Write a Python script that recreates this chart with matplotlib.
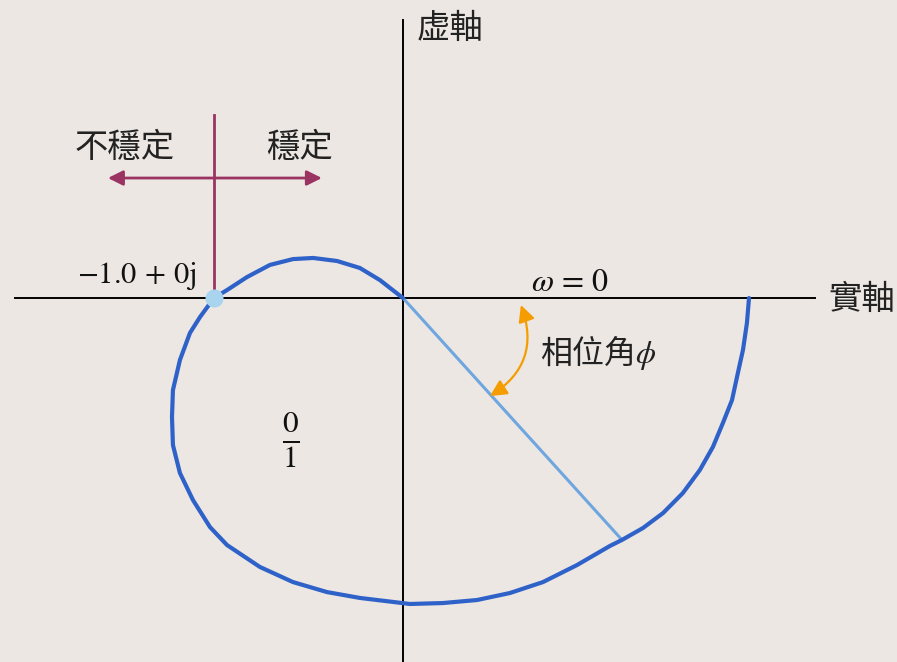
import matplotlib
matplotlib.use('Agg')
import matplotlib.pyplot as plt
import numpy as np

plt.rcParams['mathtext.fontset'] = 'stix'
plt.rcParams['font.family'] = ['Noto Sans CJK TC', 'DejaVu Sans']

# Nyquist curve, real / imaginary parts (from omega=0 at the right)
re = [1.831, 1.820, 1.799, 1.772, 1.741, 1.693, 1.640, 1.571, 1.481, 1.376,
      1.270, 1.159, 1.095, 0.921, 0.741, 0.566, 0.392, 0.212, 0.037, -0.228,
      -0.402, -0.582, -0.757, -0.931, -1.021, -1.111, -1.180, -1.217, -1.222,
      -1.217, -1.180, -1.127, -1.074, -1.0, -0.931, -0.825, -0.704, -0.582,
      -0.476, -0.349, -0.228, -0.122, 0.0]
im = [0.0, -0.132, -0.275, -0.397, -0.540, -0.661, -0.788, -0.910, -1.032, -1.138,
      -1.217, -1.280, -1.312, -1.413, -1.503, -1.561, -1.598, -1.614, -1.619, -1.587,
      -1.556, -1.503, -1.423, -1.307, -1.212, -1.069, -0.926, -0.778, -0.630,
      -0.487, -0.328, -0.185, -0.101, 0.0, 0.042, 0.111, 0.175, 0.206,
      0.212, 0.196, 0.159, 0.095, 0.0]

phase_pt = (1.159, -1.280)
crit_pt = (-1.0, 0.0)

BG = '#ece7e3'
fig = plt.figure(figsize=(8.97, 6.62), dpi=100, facecolor=BG)
ax = fig.add_axes([0, 0, 1, 1])
ax.set_facecolor(BG)
ax.set_xlim(-2.132, 2.614)
ax.set_ylim(-1.926, 1.577)
ax.axis('off')

# axes
ax.plot([-2.053, 2.180], [0, 0], color='black', lw=1.4, zorder=2)
ax.plot([0, 0], [-1.926, 1.471], color='black', lw=1.4, zorder=2)

# phase line
ax.plot([0, phase_pt[0]], [0, phase_pt[1]], color='#6fa6e0', lw=2.2, zorder=3)

# nyquist curve
ax.plot(re, im, color='#2f62c8', lw=3.0, solid_joinstyle='round',
        solid_capstyle='round', zorder=4)

# critical point
ax.plot([crit_pt[0]], [crit_pt[1]], 'o', ms=12, color='#a8d4f0', zorder=5)

# stable / unstable marker
MAG = '#9b3362'
ax.plot([-1.0, -1.0], [0.042, 0.968], color=MAG, lw=2.0, zorder=3)
ax.annotate('', xy=(-1.561, 0.635), xytext=(-0.429, 0.635),
            arrowprops=dict(arrowstyle='<|-|>,head_length=0.9,head_width=0.45',
                            color=MAG, lw=2.0, shrinkA=0, shrinkB=0))

# phase angle arrow
ax.annotate('', xy=(0.460, -0.519), xytext=(0.624, -0.037),
            arrowprops=dict(arrowstyle='<|-|>,head_length=1.0,head_width=0.5',
                            color='#f59d00', lw=1.6, shrinkA=0, shrinkB=0,
                            connectionstyle='arc3,rad=-0.4'))

# texts
ax.text(0.249, 1.429, '虚軸', fontsize=24, ha='center', va='center', color='#222222')
ax.text(2.429, -0.01, '實軸', fontsize=24, ha='center', va='center', color='#222222')
ax.text(-1.471, 0.799, '不穩定', fontsize=24, ha='center', va='center', color='#222222')
ax.text(-0.545, 0.799, '穩定', fontsize=24, ha='center', va='center', color='#222222')
ax.text(-1.407, 0.116, r'$-1.0\,+\,0\mathrm{j}$', fontsize=22, ha='center', va='center',
        color='#111111')
ax.text(0.884, 0.085, r'$\omega\,=\,0$', fontsize=23, ha='center', va='center',
        color='#111111')
ax.text(1.032, -0.286, r'相位角$\phi$', fontsize=23, ha='center', va='center',
        color='#222222')
ax.text(-0.593, -0.751, r'$\frac{0}{1}$', fontsize=32, ha='center', va='center',
        color='#111111')

fig.savefig('out.png', dpi=100, facecolor=BG)
